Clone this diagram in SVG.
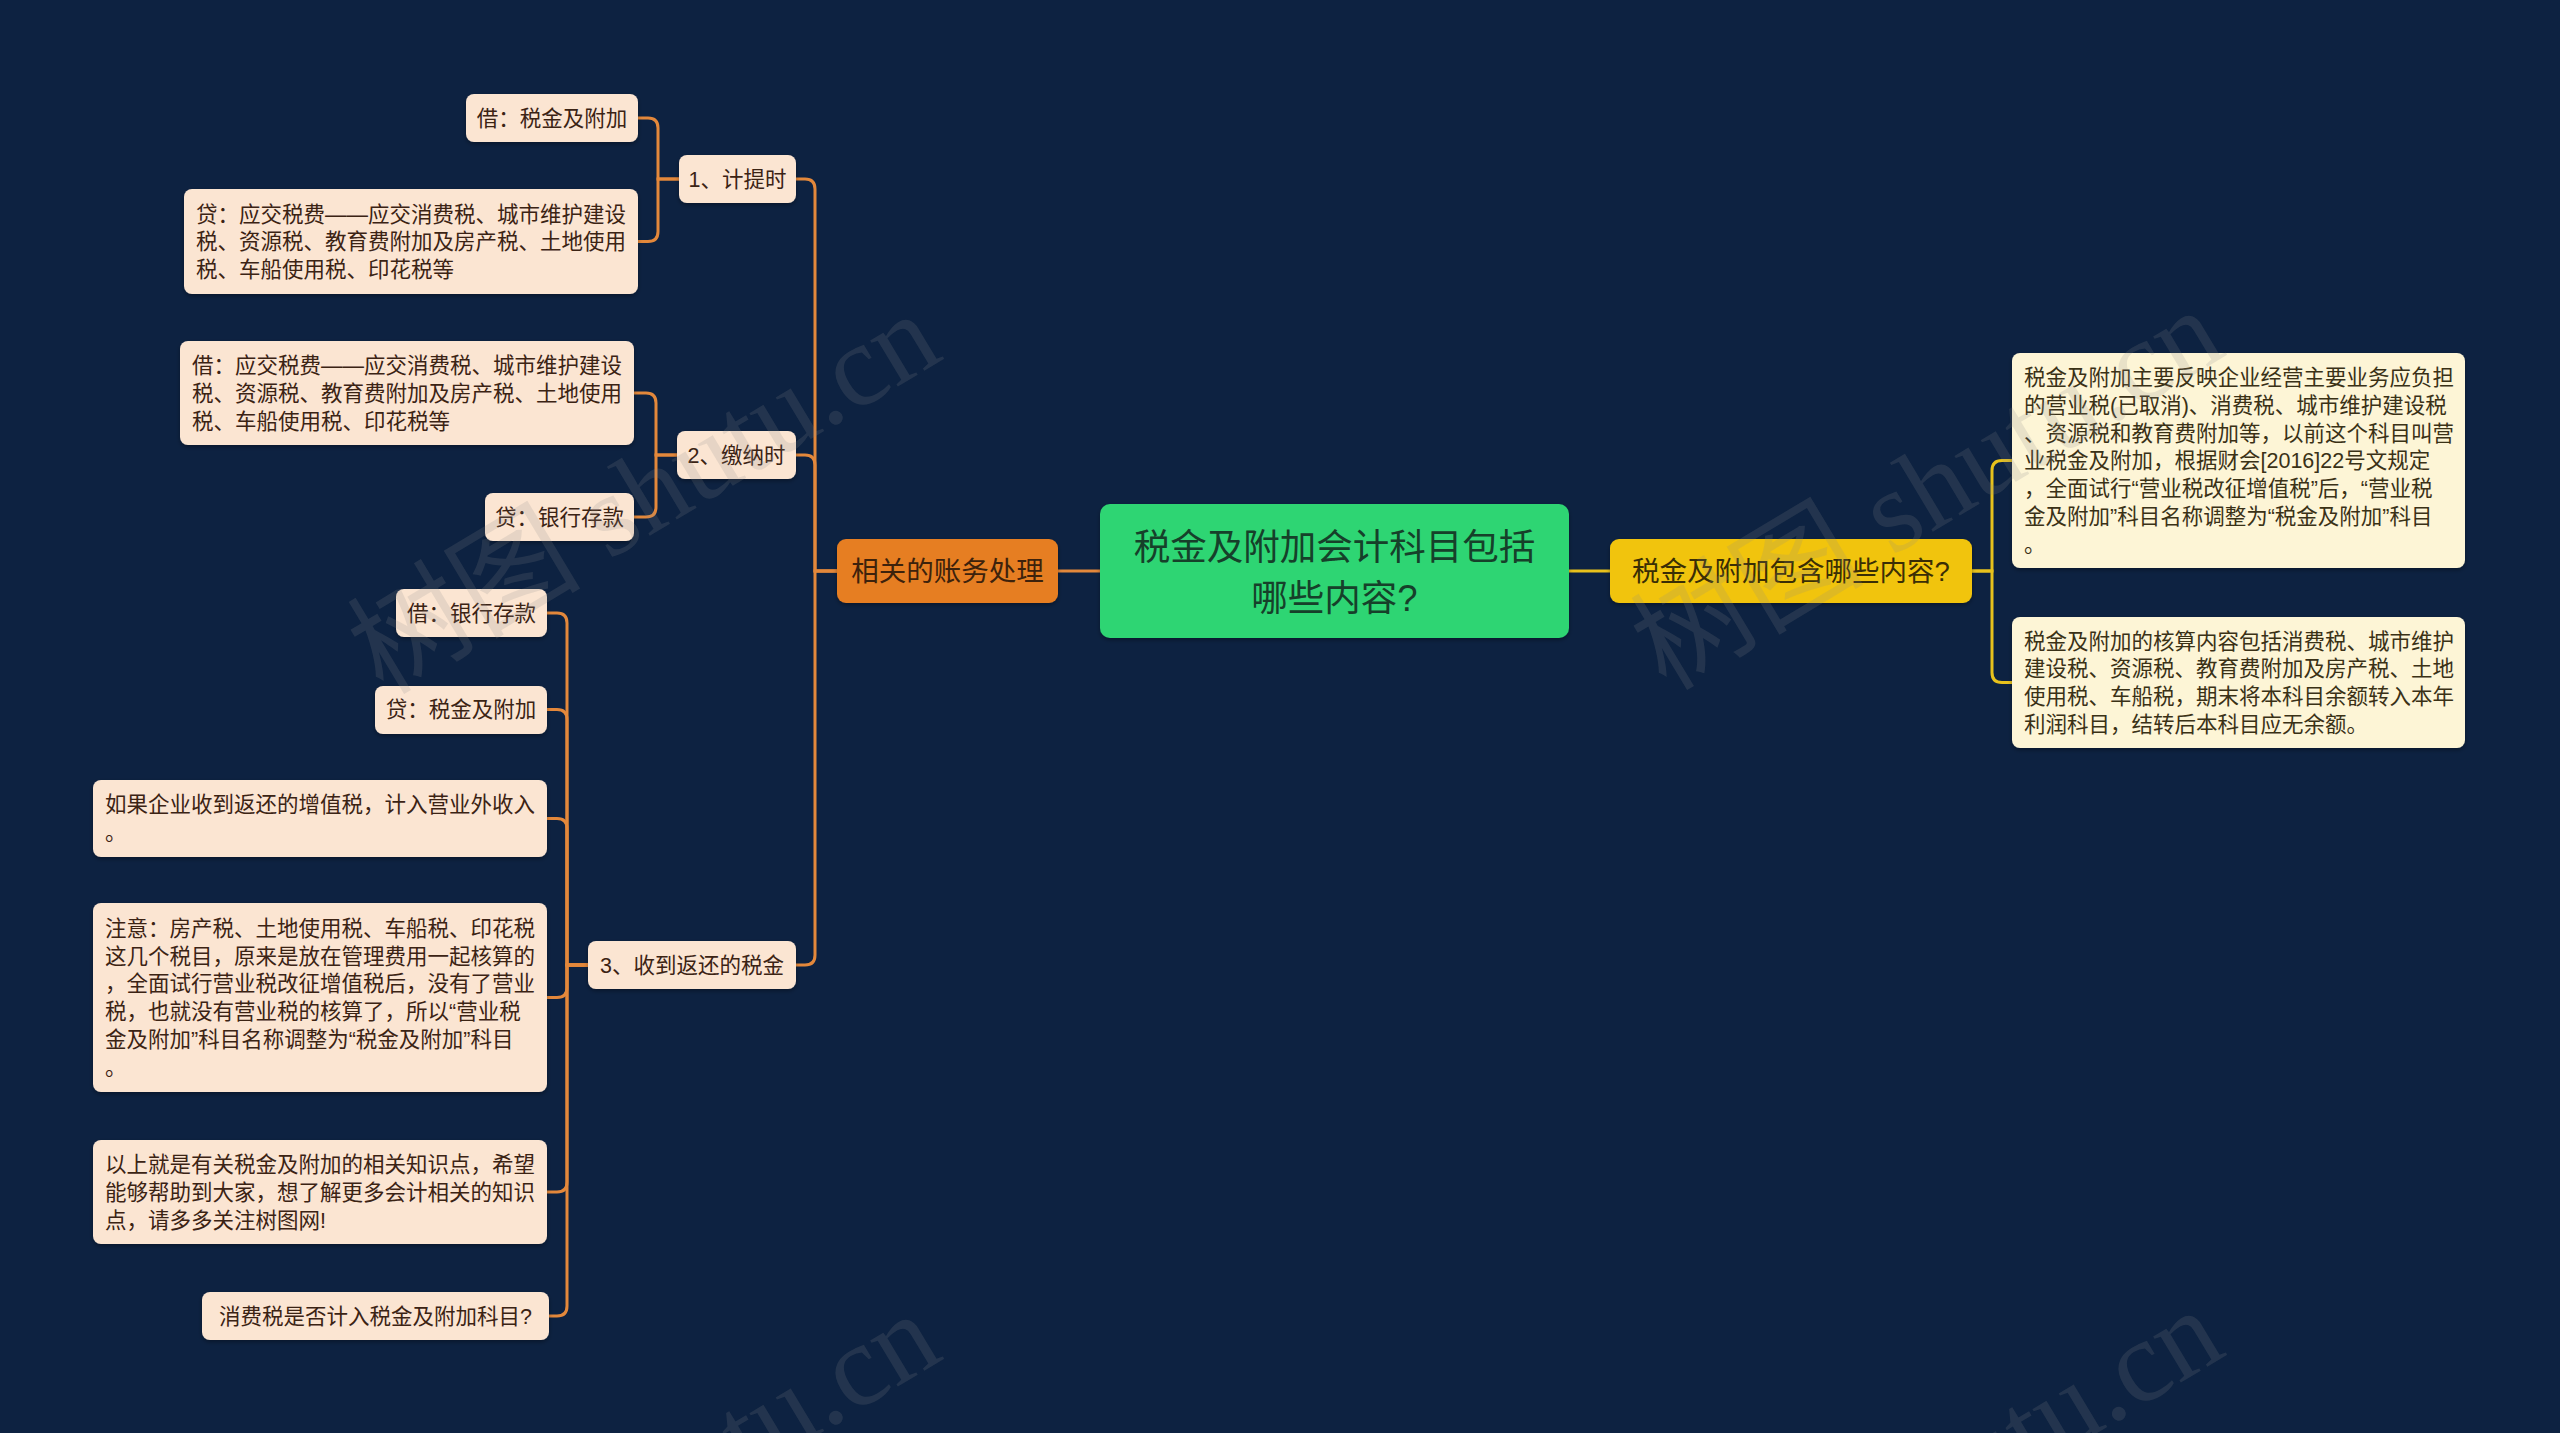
<svg xmlns="http://www.w3.org/2000/svg" width="2560" height="1433" viewBox="0 0 2560 1433">
<style>
.t{font-family:"Liberation Sans","Noto Sans CJK SC",sans-serif;}
.leafL{fill:#fbe5d2;}
.leafR{fill:#fdf5d6;}
.tl{font-size:21.5px;fill:#3b2314;}
.tr{font-size:21.5px;fill:#3a3116;}
.c{text-anchor:middle;}
.lo{fill:none;stroke:#e3883b;stroke-width:3;}
.ly{fill:none;stroke:#e8c21c;stroke-width:3;}
.wm{font-family:"Liberation Serif","Noto Sans CJK SC",serif;font-size:117px;fill:#8a8a8a;fill-opacity:0.18;}
</style>
<defs>
<filter id="sh" x="-10%" y="-10%" width="120%" height="130%">
<feDropShadow dx="0" dy="2" stdDeviation="2" flood-color="#000" flood-opacity="0.35"/>
</filter>
</defs>
<rect x="0" y="0" width="2560" height="1433" fill="#0d2241"/>
<g id="connectors">
<path class="lo" d="M1100,571 H1058"/>
<path class="lo" d="M837,571 H815 V189 Q815,179 805,179 H796"/>
<path class="lo" d="M837,571 H815 V465 Q815,455 805,455 H796"/>
<path class="lo" d="M837,571 H815 V955 Q815,965 805,965 H796"/>
<path class="lo" d="M679,179 H658 V128 Q658,118 648,118 H638"/>
<path class="lo" d="M679,179 H658 V231.5 Q658,241.5 648,241.5 H638"/>
<path class="lo" d="M677,455 H656 V403 Q656,393 646,393 H634"/>
<path class="lo" d="M677,455 H656 V507 Q656,517 646,517 H634"/>
<path class="lo" d="M588,965 H567 V623 Q567,613 557,613 H547"/>
<path class="lo" d="M588,965 H567 V719.5 Q567,709.5 557,709.5 H547"/>
<path class="lo" d="M588,965 H567 V828.5 Q567,818.5 557,818.5 H547"/>
<path class="lo" d="M588,965 H567 V987.5 Q567,997.5 557,997.5 H547"/>
<path class="lo" d="M588,965 H567 V1182 Q567,1192 557,1192 H547"/>
<path class="lo" d="M588,965 H567 V1306 Q567,1316 557,1316 H549"/>
<path class="ly" d="M1569,571 H1610"/>
<path class="ly" d="M1972,571 H1992 V470.5 Q1992,460.5 2002,460.5 H2012"/>
<path class="ly" d="M1972,571 H1992 V672.5 Q1992,682.5 2002,682.5 H2012"/>
</g>
<g id="root">
<rect x="1100" y="504" width="469" height="134" rx="10" fill="#2ed573" filter="url(#sh)"/>
<text class="t c" x="1334.5" y="559.6" font-size="36.5" fill="#16402a">税金及附加会计科目包括</text>
<text class="t c" x="1334.5" y="610.6" font-size="36.5" fill="#16402a">哪些内容?</text>
</g>
<g id="n-accounting">
<rect x="837" y="539" width="221" height="64" rx="9" fill="#e67e22" filter="url(#sh)"/>
<text class="t c" x="947.5" y="580.9" font-size="27.5" fill="#3d220c">相关的账务处理</text>
</g>
<g id="n-content">
<rect x="1610" y="539" width="362" height="64" rx="9" fill="#f1c40f" filter="url(#sh)"/>
<text class="t c" x="1791" y="580.9" font-size="27.5" fill="#3a2e05">税金及附加包含哪些内容?</text>
</g>
<g id="n-1">
<rect class="leafL" x="679" y="155" width="117" height="48" rx="8" filter="url(#sh)"/>
<text class="t tl c" x="737.5" y="186.8">1、计提时</text>
</g>
<g id="n-2">
<rect class="leafL" x="677" y="431" width="119" height="48" rx="8" filter="url(#sh)"/>
<text class="t tl c" x="736.5" y="462.8">2、缴纳时</text>
</g>
<g id="n-3">
<rect class="leafL" x="588" y="941" width="208" height="48" rx="8" filter="url(#sh)"/>
<text class="t tl c" x="692" y="972.8">3、收到返还的税金</text>
</g>
<g id="l1">
<rect class="leafL" x="466" y="94" width="172" height="48" rx="8" filter="url(#sh)"/>
<text class="t tl c" x="552" y="125.8">借：税金及附加</text>
</g>
<g id="l2">
<rect class="leafL" x="184" y="189" width="454" height="105" rx="8" filter="url(#sh)"/>
<text class="t tl" x="196" y="221.5">贷：应交税费——应交消费税、城市维护建设<tspan x="196" dy="27.8">税、资源税、教育费附加及房产税、土地使用</tspan><tspan x="196" dy="27.8">税、车船使用税、印花税等</tspan></text>
</g>
<g id="l3">
<rect class="leafL" x="180" y="341" width="454" height="104" rx="8" filter="url(#sh)"/>
<text class="t tl" x="192" y="373">借：应交税费——应交消费税、城市维护建设<tspan x="192" dy="27.8">税、资源税、教育费附加及房产税、土地使用</tspan><tspan x="192" dy="27.8">税、车船使用税、印花税等</tspan></text>
</g>
<g id="l4">
<rect class="leafL" x="485" y="493" width="149" height="48" rx="8" filter="url(#sh)"/>
<text class="t tl c" x="559.5" y="524.8">贷：银行存款</text>
</g>
<g id="l5">
<rect class="leafL" x="396" y="589" width="151" height="48" rx="8" filter="url(#sh)"/>
<text class="t tl c" x="471.5" y="620.8">借：银行存款</text>
</g>
<g id="l6">
<rect class="leafL" x="375" y="686" width="172" height="48" rx="8" filter="url(#sh)"/>
<text class="t tl c" x="461" y="717.3">贷：税金及附加</text>
</g>
<g id="l7">
<rect class="leafL" x="93" y="780" width="454" height="77" rx="8" filter="url(#sh)"/>
<text class="t tl" x="105" y="812.4">如果企业收到返还的增值税，计入营业外收入<tspan x="105" dy="27.8">。</tspan></text>
</g>
<g id="l8">
<rect class="leafL" x="93" y="903" width="454" height="189" rx="8" filter="url(#sh)"/>
<text class="t tl" x="105" y="935.8">注意：房产税、土地使用税、车船税、印花税<tspan x="105" dy="27.8">这几个税目，原来是放在管理费用一起核算的</tspan><tspan x="105" dy="27.8">，全面试行营业税改征增值税后，没有了营业</tspan><tspan x="105" dy="27.8">税，也就没有营业税的核算了，所以“营业税</tspan><tspan x="105" dy="27.8">金及附加”科目名称调整为“税金及附加”科目</tspan><tspan x="105" dy="27.8">。</tspan></text>
</g>
<g id="l9">
<rect class="leafL" x="93" y="1140" width="454" height="104" rx="8" filter="url(#sh)"/>
<text class="t tl" x="105" y="1172">以上就是有关税金及附加的相关知识点，希望<tspan x="105" dy="27.8">能够帮助到大家，想了解更多会计相关的知识</tspan><tspan x="105" dy="27.8">点，请多多关注树图网!</tspan></text>
</g>
<g id="l10">
<rect class="leafL" x="202" y="1292" width="347" height="48" rx="8" filter="url(#sh)"/>
<text class="t tl c" x="375.5" y="1323.8">消费税是否计入税金及附加科目?</text>
</g>
<g id="r1">
<rect class="leafR" x="2012" y="353" width="453" height="215" rx="8" filter="url(#sh)"/>
<text class="t tr" x="2024" y="384.9">税金及附加主要反映企业经营主要业务应负担<tspan x="2024" dy="27.8">的营业税(已取消)、消费税、城市维护建设税</tspan><tspan x="2024" dy="27.8">、资源税和教育费附加等，以前这个科目叫营</tspan><tspan x="2024" dy="27.8">业税金及附加，根据财会[2016]22号文规定</tspan><tspan x="2024" dy="27.8">，全面试行“营业税改征增值税”后，“营业税</tspan><tspan x="2024" dy="27.8">金及附加”科目名称调整为“税金及附加”科目</tspan><tspan x="2024" dy="27.8">。</tspan></text>
</g>
<g id="r2">
<rect class="leafR" x="2012" y="617" width="453" height="131" rx="8" filter="url(#sh)"/>
<text class="t tr" x="2024" y="648.6">税金及附加的核算内容包括消费税、城市维护<tspan x="2024" dy="27.8">建设税、资源税、教育费附加及房产税、土地</tspan><tspan x="2024" dy="27.8">使用税、车船税，期末将本科目余额转入本年</tspan><tspan x="2024" dy="27.8">利润科目，结转后本科目应无余额。</tspan></text>
</g>
<g id="watermarks">
<text class="wm" transform="translate(383,696) rotate(-31)">树图 shutu.cn</text>
<text class="wm" transform="translate(1666,692) rotate(-31)">树图 shutu.cn</text>
<text class="wm" transform="translate(383,1696) rotate(-31)">树图 shutu.cn</text>
<text class="wm" transform="translate(1666,1692) rotate(-31)">树图 shutu.cn</text>
</g>
</svg>
